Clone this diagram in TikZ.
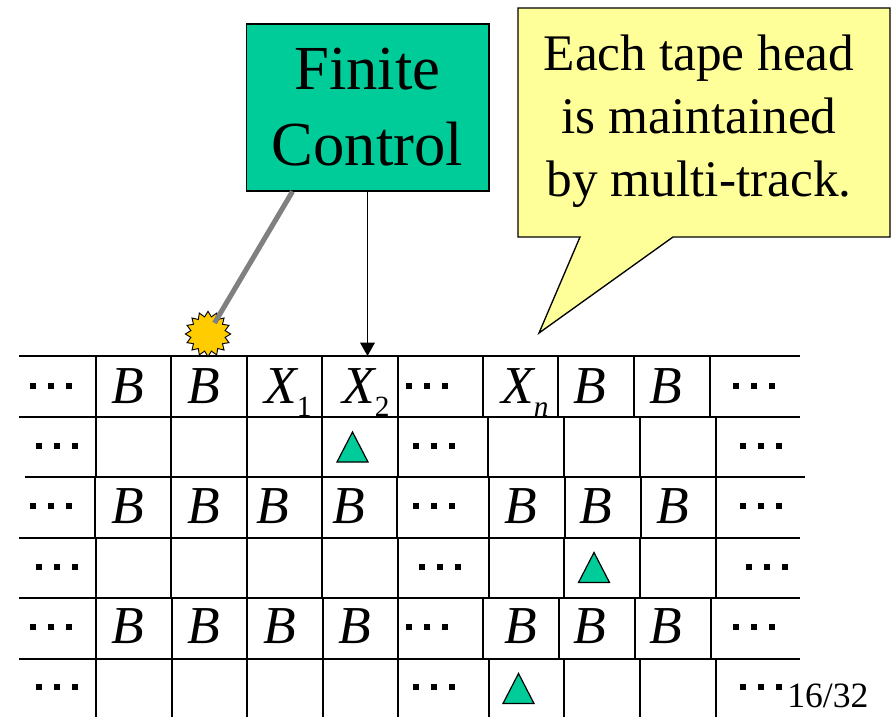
\documentclass[tikz,border=0pt]{standalone}
\usepackage{fontspec}
\newfontfamily\tapefont{Liberation Serif}
\usepackage{tikz}
\usetikzlibrary{shapes.geometric, arrows.meta, calc}

\definecolor{ctrlgreen}{RGB}{0,204,153}
\definecolor{notefill}{RGB}{255,255,153}
\definecolor{sparkfill}{RGB}{255,204,0}
\definecolor{linkgray}{RGB}{128,128,128}

% three square dots for the open ends of a track
\newcommand{\tapedots}{\rule{3.8pt}{3.8pt}\hspace{9.7pt}\rule{3.8pt}{3.8pt}\hspace{9.7pt}\rule{3.8pt}{3.8pt}}
% tape symbol with a lowered index
\newcommand{\tapesub}[2]{\textit{#1}\raisebox{-10pt}{\fontsize{22pt}{22pt}\selectfont #2}}
% head marker on a track
\newcommand{\headmark}[2]{\draw[headfill] ({#1-15.5},{#2+15}) -- ({#1+15.5},{#2+15}) -- (#1,{#2-15}) -- cycle;}

\begin{document}
\begin{tikzpicture}[x=0.75pt, y=-0.75pt,
        ctrl/.style={rectangle, draw=black, line width=1pt, fill=ctrlgreen, minimum width=182pt, minimum height=125pt, align=center, inner sep=0pt, font=\tapefont\fontsize{47pt}{57pt}\selectfont},
        notebox/.style={draw=black, line width=1pt, fill=notefill},
        notetext/.style={align=center, inner sep=0pt, font=\tapefont\fontsize{38.5pt}{47.3pt}\selectfont},
        sym/.style={anchor=base, inner sep=0pt, font=\tapefont\fontsize{40pt}{40pt}\selectfont\itshape},
        dotcell/.style={inner sep=0pt},
        gridline/.style={draw=black, line width=1.3pt},
        headfill/.style={draw=black, line width=0.9pt, fill=ctrlgreen},
        spark/.style={star, star points=16, star point ratio=1.3, draw=black, line width=0.7pt, fill=sparkfill, minimum size=34pt, inner sep=0pt},
        linkline/.style={draw=linkgray, line width=3.8pt, shorten >=9.6pt},
        ctrlarrow/.style={draw=black, line width=0.8pt, -{Triangle[width=11pt, length=10pt]}}
    ]
        \useasboundingbox (0,0) rectangle (895,717);

        % Control unit and note
        \node [ctrl] (fc) at (367.5,107.5) {Finite\\Control};
        \draw [notebox] (518,8) -- (890,8) -- (890,237) -- (673,237) -- (539,333) -- (580,237) -- (518,237) -- cycle;
        \node [notetext] (note) at (699,121.5) {Each tape head\\is maintained\\by multi-track.};

        % Tracks: horizontal rules
        \draw [gridline] (19,356) -- (800,356) (19,417) -- (800,417) (25,477) -- (805,477)
            (19,538) -- (800,538) (19,598) -- (800,598) (19,659) -- (800,659);
        \coordinate (tapetop) at (0,356);

        % Cell borders of each track
        \draw [gridline] (96,356) -- (96,417) (171,356) -- (171,417) (247,356) -- (247,417) (322,356) -- (322,417) (398,356) -- (398,417)
            (483,356) -- (483,417) (558,356) -- (558,417) (634,356) -- (634,417) (710,356) -- (710,417);
        \draw [gridline] (96,417) -- (96,477) (171,417) -- (171,477) (247,417) -- (247,477) (322,417) -- (322,477) (398,417) -- (398,477)
            (488,417) -- (488,477) (564,417) -- (564,477) (640,417) -- (640,477) (716,417) -- (716,477);
        \draw [gridline] (95,477) -- (95,538) (171,477) -- (171,538) (247,477) -- (247,538) (322,477) -- (322,538) (397,477) -- (397,538)
            (489,477) -- (489,538) (565,477) -- (565,538) (641,477) -- (641,538) (716,477) -- (716,538);
        \draw [gridline] (96,538) -- (96,598) (171,538) -- (171,598) (247,538) -- (247,598) (322,538) -- (322,598) (398,538) -- (398,598)
            (489,538) -- (489,598) (564,538) -- (564,598) (640,538) -- (640,598) (716,538) -- (716,598);
        \draw [gridline] (96,598) -- (96,659) (172,598) -- (172,659) (247,598) -- (247,659) (323,598) -- (323,659) (398,598) -- (398,659)
            (483,598) -- (483,659) (559,598) -- (559,659) (635,598) -- (635,659) (711,598) -- (711,659);
        \draw [gridline] (96,659) -- (96,717) (172,659) -- (172,717) (247,659) -- (247,717) (323,659) -- (323,717) (398,659) -- (398,717)
            (489,659) -- (489,717) (564,659) -- (564,717) (640,659) -- (640,717) (716,659) -- (716,717);

        % Track 1: tape contents
        \node [dotcell] (t1l) at (51,386) {\tapedots};
        \node [sym] (t1a) at (128,403) {B};
        \node [sym] (t1b) at (204,403) {B};
        \node [sym] (t1x1) at (288,403) {\tapesub{X}{\upshape 1}};
        \node [sym] (t1x2) at (366,403) {\tapesub{X}{\upshape 2}};
        \node [dotcell] (t1m) at (427,386) {\tapedots};
        \node [sym] (t1xn) at (525,403) {\tapesub{X}{n}};
        \node [sym] (t1c) at (590,403) {B};
        \node [sym] (t1d) at (666,403) {B};
        \node [dotcell] (t1r) at (754,386) {\tapedots};

        % Track 2: head of tape 1
        \node [dotcell] (t2l) at (57,446) {\tapedots};
        \node [dotcell] (t2m) at (434,446) {\tapedots};
        \node [dotcell] (t2r) at (761,446) {\tapedots};
        \headmark{352.5}{447}

        % Track 3: tape contents
        \node [dotcell] (t3l) at (51,506) {\tapedots};
        \node [sym] (t3a) at (128,523) {B};
        \node [sym] (t3b) at (204,523) {B};
        \node [sym] (t3c) at (273,523) {B};
        \node [sym] (t3d) at (349,523) {B};
        \node [dotcell] (t3m) at (434,506) {\tapedots};
        \node [sym] (t3e) at (521,523) {B};
        \node [sym] (t3f) at (596,523) {B};
        \node [sym] (t3g) at (673,523) {B};
        \node [dotcell] (t3r) at (761,506) {\tapedots};

        % Track 4: head of tape 2
        \node [dotcell] (t4l) at (57,567) {\tapedots};
        \node [dotcell] (t4m) at (440,567) {\tapedots};
        \node [dotcell] (t4r) at (767,567) {\tapedots};
        \headmark{594}{567.5}

        % Track 5: tape contents
        \node [dotcell] (t5l) at (51,627) {\tapedots};
        \node [sym] (t5a) at (128,643) {B};
        \node [sym] (t5b) at (204,643) {B};
        \node [sym] (t5c) at (280,643) {B};
        \node [sym] (t5d) at (355,643) {B};
        \node [dotcell] (t5m) at (427,627) {\tapedots};
        \node [sym] (t5e) at (521,643) {B};
        \node [sym] (t5f) at (590,643) {B};
        \node [sym] (t5g) at (666,643) {B};
        \node [dotcell] (t5r) at (754,627) {\tapedots};

        % Track 6: head of tape 3
        \node [dotcell] (t6l) at (57,687) {\tapedots};
        \node [dotcell] (t6m) at (434,687) {\tapedots};
        \node [dotcell] (t6r) at (761,687) {\tapedots};
        \headmark{518.5}{688.5}

        % Links from the control unit
        \node [spark] (sparkpt) at (208,334) {};
        \draw [linkline] ($(fc.south west)+(47,0)$) -- (sparkpt.center);
        \draw [ctrlarrow] (fc.south) -- (fc.south |- tapetop);

        \node [anchor=base west, inner sep=0pt, font=\tapefont\fontsize{26.7pt}{30pt}\selectfont] (pageno) at (787,707) {16/32};
    \end{tikzpicture}
\end{document}
